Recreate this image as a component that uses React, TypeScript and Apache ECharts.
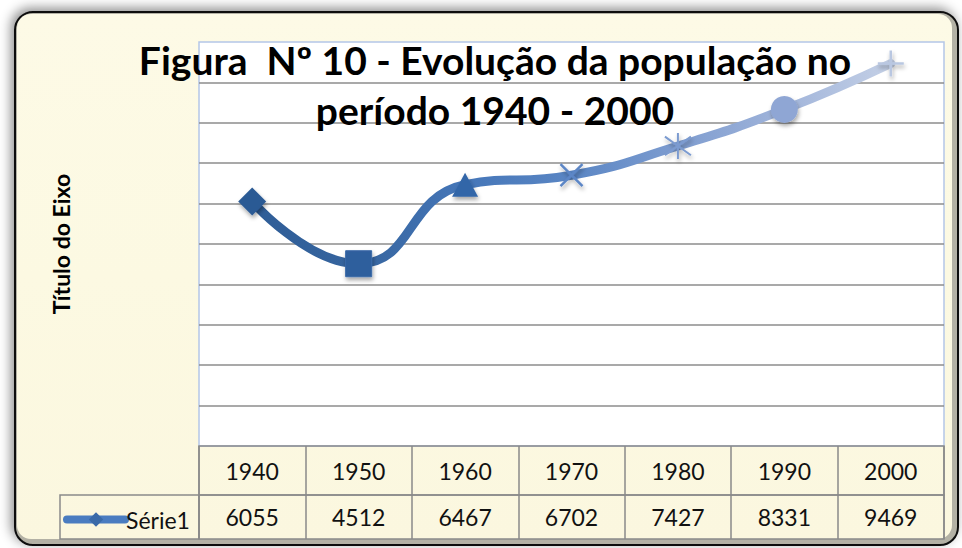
import React, { useEffect, useRef } from 'react';
import * as echarts from 'echarts';

const years: string[] = ['1940', '1950', '1960', '1970', '1980', '1990', '2000'];
const population: number[] = [6055, 4512, 6467, 6702, 7427, 8331, 9469];
const seriesName = 'Série1';
const axisTitle = 'Título do Eixo';
const chartTitle = 'Figura  Nº 10 - Evolução da população no\nperíodo 1940 - 2000';

export default function App() {
  const ref = useRef<HTMLDivElement>(null);
  useEffect(() => {
    if (!ref.current) return;
    const chart = echarts.init(ref.current, null, { renderer: 'svg' });
    const shadow = { shadowBlur: 4, shadowColor: 'rgba(0,0,0,0.35)', shadowOffsetX: 1, shadowOffsetY: 3 };
    const markerStyles: any[] = [
      { symbol: 'diamond', symbolSize: 28, itemStyle: { color: '#2c5a94', ...shadow } },
      { symbol: 'rect', symbolSize: 26, itemStyle: { color: '#2e5e9d', borderColor: '#3a6aa8', borderWidth: 1, ...shadow } },
      { symbol: 'triangle', symbolSize: [26, 24], itemStyle: { color: '#3366a8', ...shadow } },
      { symbol: 'path://M0 0L10 10M10 0L0 10', symbolSize: 22, itemStyle: { color: 'rgba(0,0,0,0)', borderColor: '#5b86c6', borderWidth: 2.5, ...shadow } },
      { symbol: 'path://M0 0L10 10M10 0L0 10M5 -2L5 12', symbolSize: 26, itemStyle: { color: 'rgba(0,0,0,0)', borderColor: '#7c9bd0', borderWidth: 2, ...shadow } },
      { symbol: 'circle', symbolSize: 27, itemStyle: { color: '#8fa6d4', ...shadow } },
      { symbol: 'path://M0 6L12 6M6 0L6 12', symbolSize: 26, itemStyle: { color: 'rgba(0,0,0,0)', borderColor: '#b9c7e1', borderWidth: 2.5, ...shadow } },
    ];
    const data = population.map((v, i) => ({ value: v, ...markerStyles[i] }));
    const tableLabel = {
      show: true,
      inside: true,
      interval: 0,
      verticalAlign: 'middle',
      fontFamily: 'Lato',
      fontSize: 23,
      color: '#111',
    };
    const grayLine = { color: '#8a8a8a', width: 1.5 };
    const option: any = {
      animation: false,
      graphic: [
        {
          type: 'rect', z: -100,
          shape: { x: 15, y: 12, width: 943, height: 533, r: 18 },
          style: { fill: '#b3b1a5', stroke: '#111', lineWidth: 2, shadowBlur: 12, shadowColor: 'rgba(0,0,0,0.45)', shadowOffsetX: -3, shadowOffsetY: -3 },
        },
        {
          type: 'rect', z: -99,
          shape: { x: 17, y: 14, width: 935, height: 525, r: 14 },
          style: {
            fill: new echarts.graphic.LinearGradient(0, 0, 0, 1, [
              { offset: 0, color: '#fdfae6' },
              { offset: 0.5, color: '#fcf9e2' },
              { offset: 1, color: '#fbf7df' },
            ]),
          },
        },
        {
          type: 'rect', z: 10,
          shape: { x: 60, y: 495, width: 139, height: 44 },
          style: { fill: 'none', stroke: '#8a8a8a', lineWidth: 1.5 },
        },
        {
          type: 'text', z: 20, x: 495, y: 35,
          style: {
            text: chartTitle,
            align: 'center',
            verticalAlign: 'top',
            fontFamily: 'Lato',
            fontWeight: 'bold',
            fontSize: 39,
            lineHeight: 50,
            fill: '#000',
          },
        },
      ],
      legend: {
        data: [seriesName],
        left: 63,
        top: 508,
        padding: 0,
        itemWidth: 58,
        itemHeight: 18,
        itemGap: 5,
        textStyle: { fontFamily: 'Lato', fontSize: 23, color: '#111', padding: [0, 0, 0, -4] },
        itemStyle: { color: '#3a6aa8', borderWidth: 0, shadowBlur: 0 },
        lineStyle: { color: '#4a7cc0', width: 8, cap: 'round' },
      },
      grid: [
        { left: 199, top: 42, width: 745, height: 404, show: true, backgroundColor: '#fff', borderColor: '#b4c6e7', borderWidth: 1.5 },
        { left: 199, top: 446, width: 745, height: 49, show: true, backgroundColor: 'transparent', borderColor: '#8a8a8a', borderWidth: 1.5 },
        { left: 199, top: 495, width: 745, height: 44, show: true, backgroundColor: 'transparent', borderColor: '#8a8a8a', borderWidth: 1.5 },
      ],
      xAxis: [
        {
          gridIndex: 0, type: 'category', data: years, boundaryGap: true,
          axisLabel: { show: false }, axisTick: { show: false }, axisLine: { show: false }, splitLine: { show: false },
        },
        {
          gridIndex: 1, type: 'category', data: years, boundaryGap: true,
          axisLabel: { ...tableLabel, margin: 24.5 },
          axisTick: { show: false }, axisLine: { show: false },
          splitLine: { show: true, interval: 0, lineStyle: grayLine },
        },
        {
          gridIndex: 2, type: 'category', data: years, boundaryGap: true,
          axisLabel: { ...tableLabel, margin: 22, formatter: (_v: string, i: number) => String(population[i]) },
          axisTick: { show: false }, axisLine: { show: false },
          splitLine: { show: true, interval: 0, lineStyle: grayLine },
        },
      ],
      yAxis: [
        {
          gridIndex: 0, type: 'value', min: 0, max: 10000, interval: 1000,
          axisLabel: { show: false }, axisTick: { show: false }, axisLine: { show: false },
          splitLine: { show: true, showMinLine: false, showMaxLine: false, lineStyle: { color: '#8c8c8c', width: 1.5 } },
          name: axisTitle, nameLocation: 'middle', nameGap: 127, nameRotate: 90,
          nameTextStyle: { fontFamily: 'Lato', fontWeight: 'bold', fontSize: 23, color: '#000' },
        },
        { gridIndex: 1, type: 'value', min: 0, max: 1, show: false },
        { gridIndex: 2, type: 'value', min: 0, max: 1, show: false },
      ],
      series: [
        {
          name: seriesName,
          type: 'line',
          xAxisIndex: 0,
          yAxisIndex: 0,
          smooth: 0.5,
          symbol: 'diamond',
          symbolSize: 26,
          itemStyle: { color: '#3a6aa8' },
          lineStyle: {
            width: 9,
            cap: 'round',
            color: new echarts.graphic.LinearGradient(0, 0, 1, 0, [
              { offset: 0, color: '#2f5d97' },
              { offset: 0.17, color: '#36659f' },
              { offset: 0.33, color: '#4576b8' },
              { offset: 0.5, color: '#5a86c4' },
              { offset: 0.67, color: '#7f9dd0' },
              { offset: 0.83, color: '#a0b4da' },
              { offset: 1, color: '#c4d0e6' },
            ]),
          },
          data,
        },
      ],
    };
    chart.setOption(option);
    return () => chart.dispose();
  }, []);
  return <div ref={ref} style={{ position: 'absolute', left: 0, top: 0, width: 962, height: 548 }} />;
}
